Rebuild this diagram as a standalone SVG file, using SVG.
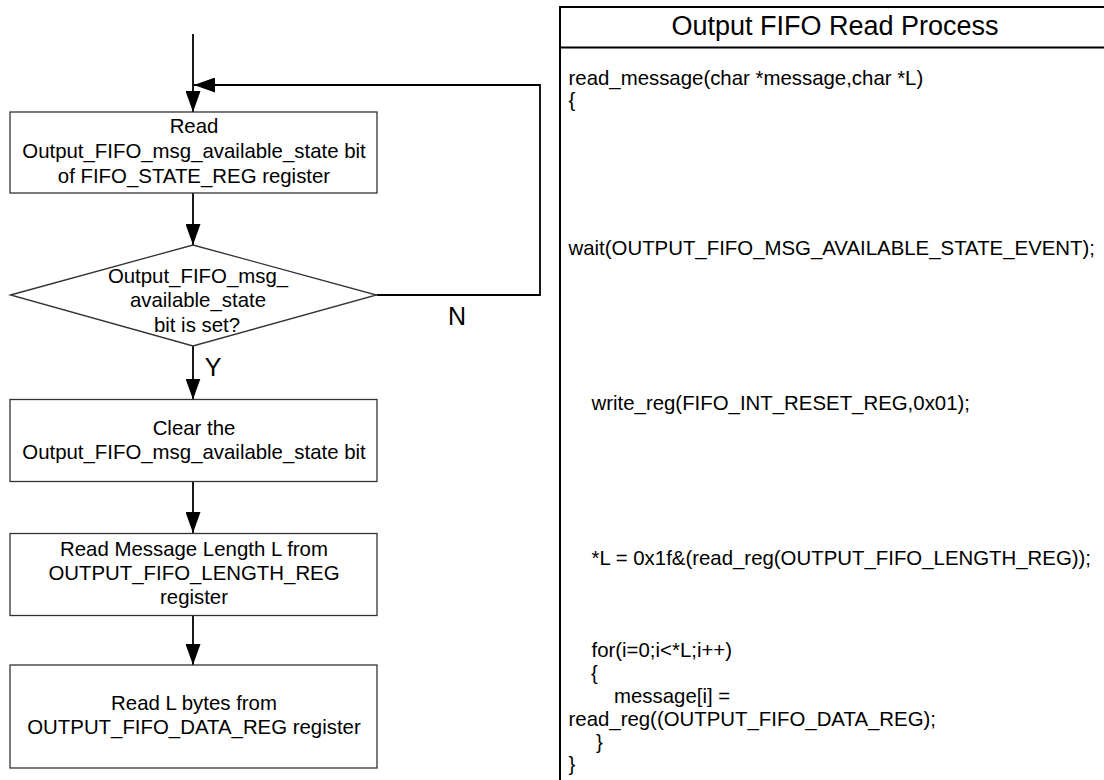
<svg xmlns="http://www.w3.org/2000/svg" width="1104" height="780" viewBox="0 0 1104 780">
<style>
text{font-family:"Liberation Sans",Arial,sans-serif;fill:#000}
.t{font-size:20.4px;text-anchor:middle}
.c{font-size:20.4px}
.lab{font-size:25px;text-anchor:middle}
.ttl{font-size:27px;text-anchor:middle}
.box{fill:#fff;stroke:#333;stroke-width:1.3}
.ln{fill:none;stroke:#000;stroke-width:1.8}
.panel{fill:#fff;stroke:#000;stroke-width:2}
</style>
<defs>
<marker id="ah" markerUnits="userSpaceOnUse" markerWidth="22" markerHeight="15" refX="21" refY="7.5" orient="auto">
<path d="M0,0 L21,7.5 L0,15 z" fill="#000"/>
</marker>
</defs>
<rect width="1104" height="780" fill="#fff"/>

<g id="connectors">
<line class="ln" x1="193" y1="34" x2="193" y2="112" marker-end="url(#ah)"/>
<line class="ln" x1="193" y1="193" x2="193" y2="245" marker-end="url(#ah)"/>
<line class="ln" x1="193" y1="346" x2="193" y2="399.5" marker-end="url(#ah)"/>
<line class="ln" x1="193" y1="482" x2="193" y2="533" marker-end="url(#ah)"/>
<line class="ln" x1="193" y1="615.5" x2="193" y2="665" marker-end="url(#ah)"/>
<polyline class="ln" points="376.5,295 540,295 540,85 194,85" marker-end="url(#ah)"/>
<text class="lab" x="457" y="325">N</text>
<text class="lab" x="213" y="376">Y</text>
</g>

<g id="read-state">
<rect class="box" x="10" y="112" width="367" height="81"/>
<text class="t" x="194" y="133">Read</text>
<text class="t" x="194" y="158">Output_FIFO_msg_available_state bit</text>
<text class="t" x="194" y="183">of FIFO_STATE_REG register</text>
</g>

<g id="decision">
<polygon class="box" points="10.5,295 193,245 376.5,295 193,346"/>
<text class="t" x="198" y="283">Output_FIFO_msg_</text>
<text class="t" x="198" y="307">available_state</text>
<text class="t" x="197" y="332">bit is set?</text>
</g>

<g id="clear-bit">
<rect class="box" x="10" y="399.5" width="367" height="82"/>
<text class="t" x="194" y="435">Clear the</text>
<text class="t" x="194" y="459">Output_FIFO_msg_available_state bit</text>
</g>

<g id="read-length">
<rect class="box" x="10" y="533.5" width="367" height="82"/>
<text class="t" x="194" y="556">Read Message Length L from</text>
<text class="t" x="194" y="580">OUTPUT_FIFO_LENGTH_REG</text>
<text class="t" x="194" y="604">register</text>
</g>

<g id="read-data">
<rect class="box" x="10" y="665" width="367" height="103"/>
<text class="t" x="194" y="710">Read L bytes from</text>
<text class="t" x="194" y="734">OUTPUT_FIFO_DATA_REG register</text>
</g>

<g id="code-panel">
<rect class="panel" x="560" y="7" width="560" height="790"/>
<line class="panel" x1="560" y1="47.5" x2="1110" y2="47.5"/>
<text class="ttl" x="835" y="35">Output FIFO Read Process</text>
<text class="c" x="568.5" y="85">read_message(char *message,char *L)</text>
<text class="c" x="568.5" y="107">{</text>
<text class="c" x="568.5" y="255">wait(OUTPUT_FIFO_MSG_AVAILABLE_STATE_EVENT);</text>
<text class="c" x="591.5" y="410">write_reg(FIFO_INT_RESET_REG,0x01);</text>
<text class="c" x="591.5" y="565">*L = 0x1f&amp;(read_reg(OUTPUT_FIFO_LENGTH_REG));</text>
<text class="c" x="591.5" y="657">for(i=0;i&lt;*L;i++)</text>
<text class="c" x="591" y="680">{</text>
<text class="c" x="614" y="703">message[i] =</text>
<text class="c" x="568.5" y="726">read_reg((OUTPUT_FIFO_DATA_REG);</text>
<text class="c" x="596" y="749">}</text>
<text class="c" x="568.5" y="771">}</text>
</g>
</svg>
